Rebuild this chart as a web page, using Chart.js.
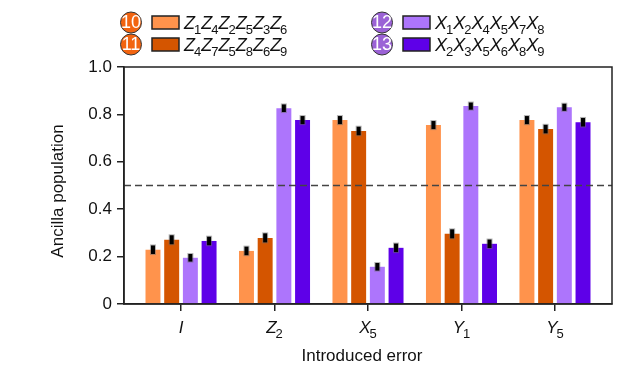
<!DOCTYPE html>
<html>
<head>
<meta charset="utf-8">
<script src="https://cdn.jsdelivr.net/npm/chart.js@4"></script>
<style>
  html, body { margin: 0; padding: 0; background: #fff; }
  #wrap { width: 629px; height: 375px; position: relative; }
</style>
</head>
<body>
<div id="wrap"><canvas id="chart"></canvas></div>
<script>
// introduced errors (main letter, subscript)
const categories = [['I', ''], ['Z', '2'], ['X', '5'], ['Y', '1'], ['Y', '5']];
const yTicks = [0, 0.2, 0.4, 0.6, 0.8, 1.0];

// stabilizer labels
const stabNames = ['10', '11', '12', '13'];
const stabLabels = [
  [['Z', '1'], ['Z', '4'], ['Z', '2'], ['Z', '5'], ['Z', '3'], ['Z', '6']],
  [['Z', '4'], ['Z', '7'], ['Z', '5'], ['Z', '8'], ['Z', '6'], ['Z', '9']],
  [['X', '1'], ['X', '2'], ['X', '4'], ['X', '5'], ['X', '7'], ['X', '8']],
  [['X', '2'], ['X', '3'], ['X', '5'], ['X', '6'], ['X', '8'], ['X', '9']]
];

// ancilla population per stabilizer
const pop10 = [0.229, 0.224, 0.776, 0.755, 0.776];
const pop11 = [0.271, 0.279, 0.730, 0.296, 0.738];
const pop12 = [0.195, 0.826, 0.157, 0.835, 0.830];
const pop13 = [0.266, 0.776, 0.237, 0.254, 0.767];

const err10 = [0.018, 0.018, 0.017, 0.017, 0.017];
const err11 = [0.019, 0.019, 0.018, 0.019, 0.018];
const err12 = [0.016, 0.016, 0.016, 0.015, 0.015];
const err13 = [0.018, 0.017, 0.018, 0.018, 0.018];

const threshold = 0.5;

const barColors = ['#FF934C', '#D45500', '#AD75FC', '#5E00E8'];
const circleColors = ['#F26410', '#F26410', '#9B62D6', '#9B62D6'];

const FONT = '"Liberation Sans", Arial, Helvetica, sans-serif';

const allPops = [pop10, pop11, pop12, pop13];
const allErrs = [err10, err11, err12, err13];

const datasets = allPops.map((vals, k) => ({
  label: stabNames[k],
  data: vals.map((v, i) => ({ x: i, y: v })),
  errs: allErrs[k],
  backgroundColor: barColors[k],
  borderWidth: 0,
  categoryPercentage: 0.8,
  barPercentage: 0.8
}));

function drawSubText(ctx, parts, x, y, size, subSize, subDrop) {
  // parts: [[main, sub], ...] drawn left to right, baseline y
  ctx.textAlign = 'left';
  ctx.textBaseline = 'alphabetic';
  parts.forEach(p => {
    ctx.font = 'italic ' + size + 'px ' + FONT;
    ctx.fillText(p[0], x, y);
    x += ctx.measureText(p[0]).width;
    if (p[1]) {
      ctx.font = subSize + 'px ' + FONT;
      ctx.fillText(p[1], x - 1, y + subDrop);
      x += ctx.measureText(p[1]).width - 1;
    }
  });
  return x;
}

const extras = {
  id: 'extras',
  afterDatasetsDraw(chart) {
    const ctx = chart.ctx;
    const y = chart.scales.y;
    const area = chart.chartArea;
    ctx.save();
    // error bars
    chart.data.datasets.forEach((ds, k) => {
      const meta = chart.getDatasetMeta(k);
      meta.data.forEach((el, i) => {
        const v = ds.data[i].y;
        const e = ds.errs[i];
        const top = y.getPixelForValue(v + e);
        const bot = y.getPixelForValue(v - e);
        ctx.fillStyle = 'rgba(110,110,110,0.5)';
        ctx.fillRect(el.x - 3, top - 1, 6, bot - top + 2);
        ctx.fillStyle = '#000';
        ctx.fillRect(el.x - 2, top, 4, bot - top);
      });
    });
    // dashed threshold line
    const yt = y.getPixelForValue(threshold);
    ctx.strokeStyle = '#444';
    ctx.lineWidth = 1.5;
    ctx.setLineDash([7, 4]);
    ctx.beginPath();
    ctx.moveTo(area.left, yt);
    ctx.lineTo(area.right, yt);
    ctx.stroke();
    ctx.setLineDash([]);
    // frame
    ctx.strokeStyle = '#222';
    ctx.lineWidth = 1.5;
    ctx.strokeRect(area.left, area.top, area.right - area.left, area.bottom - area.top);
    ctx.restore();
  },
  afterDraw(chart) {
    const ctx = chart.ctx;
    const x = chart.scales.x;
    ctx.save();
    ctx.fillStyle = '#111';
    // x tick labels
    categories.forEach((c, i) => {
      const px = x.getPixelForValue(i);
      ctx.font = 'italic 17px ' + FONT;
      const w1 = ctx.measureText(c[0]).width;
      ctx.font = '13px ' + FONT;
      const w2 = c[1] ? ctx.measureText(c[1]).width - 1 : 0;
      drawSubText(ctx, [c], px - (w1 + w2) / 2, 333, 17, 13, 5);
    });
    // axis titles
    ctx.font = '17px ' + FONT;
    ctx.textAlign = 'center';
    ctx.textBaseline = 'alphabetic';
    ctx.fillText('Introduced error', 362, 361);
    ctx.save();
    ctx.translate(63, 191);
    ctx.rotate(-Math.PI / 2);
    ctx.fillText('Ancilla population', 0, 0);
    ctx.restore();
    // legend
    const cols = [131, 382];
    const rows = [22.5, 44.5];
    stabNames.forEach((name, k) => {
      const cx = cols[Math.floor(k / 2)];
      const cy = rows[k % 2];
      ctx.beginPath();
      ctx.arc(cx, cy, 10.5, 0, Math.PI * 2);
      ctx.fillStyle = circleColors[k];
      ctx.fill();
      ctx.strokeStyle = '#333';
      ctx.lineWidth = 1;
      ctx.stroke();
      ctx.fillStyle = '#fff';
      ctx.font = '18px ' + FONT;
      ctx.textAlign = 'center';
      ctx.textBaseline = 'middle';
      ctx.fillText(name, cx, cy + 1);
      // swatch
      const sx = cx + 21;
      ctx.fillStyle = barColors[k];
      ctx.fillRect(sx, cy - 6.5, 27, 13);
      ctx.strokeStyle = '#222';
      ctx.lineWidth = 1.5;
      ctx.strokeRect(sx, cy - 6.5, 27, 13);
      ctx.fillStyle = '#111';
      drawSubText(ctx, stabLabels[k], sx + 32, cy + 6, 18, 13, 5);
    });
    ctx.restore();
  }
};

new Chart(document.getElementById('chart'), {
  type: 'bar',
  data: { datasets: datasets },
  options: {
    responsive: true,
    maintainAspectRatio: false,
    animation: false,
    layout: { padding: { top: 67, right: 17, left: 0, bottom: 0 } },
    plugins: { legend: { display: false }, tooltip: { enabled: false } },
    scales: {
      x: {
        type: 'linear',
        offset: false,
        min: -0.61,
        max: 4.61,
        afterBuildTicks: s => { s.ticks = categories.map((c, i) => ({ value: i })); },
        afterFit: s => { s.height = 71; },
        ticks: { display: false },
        grid: { offset: false, drawOnChartArea: false, tickLength: 7, color: '#222', lineWidth: 1.5 },
        border: { color: '#222', width: 1.5 }
      },
      y: {
        min: 0,
        max: 1,
        afterBuildTicks: s => { s.ticks = yTicks.map(v => ({ value: v })); },
        afterFit: s => { s.width = 124; },
        ticks: {
          color: '#111',
          padding: 5,
          font: { family: FONT, size: 17 },
          callback: v => (v === 0 ? '0' : v.toFixed(1))
        },
        grid: { drawOnChartArea: false, tickLength: 7, color: '#222', lineWidth: 1.5 },
        border: { color: '#222', width: 1.5 }
      }
    }
  },
  plugins: [extras]
});
</script>
</body>
</html>
